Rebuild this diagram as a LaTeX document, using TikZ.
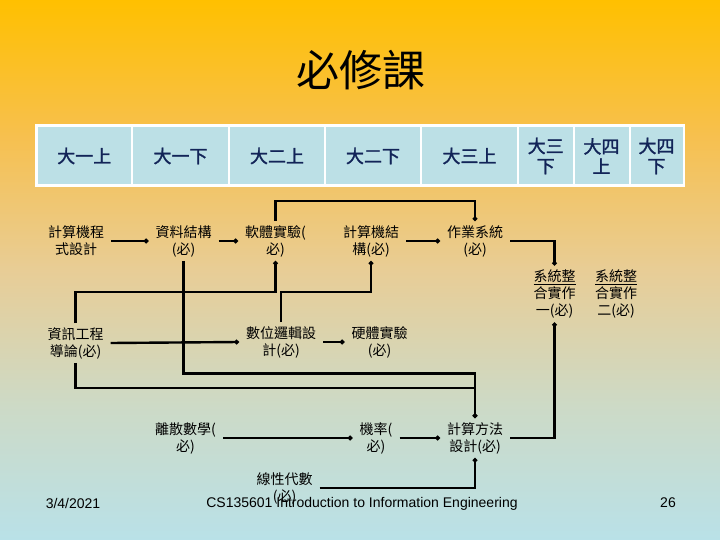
\documentclass[tikz,border=0pt]{standalone}
\usepackage{fontspec}
\setmainfont{Liberation Sans}
\newfontfamily\cjk{Noto Sans CJK TC}
\newfontfamily\cjkb{Noto Sans CJK TC}[FakeBold=1.6]
\usetikzlibrary{arrows.meta}
\definecolor{bgA}{RGB}{255,192,0}
\definecolor{bgB}{RGB}{247,192,78}
\definecolor{bgC}{RGB}{232,205,150}
\definecolor{bgD}{RGB}{205,218,198}
\definecolor{bgE}{RGB}{185,225,232}
\definecolor{cellblue}{RGB}{188,224,230}
\definecolor{headnavy}{RGB}{18,36,88}
\tikzset{
  course/.style={font=\cjk\fontsize{14}{17}\selectfont, align=center, inner xsep=7pt, inner ysep=4pt},
  cell/.style={fill=cellblue, draw=none, minimum height=57pt, inner sep=0pt, align=center,
    font=\cjkb\fontsize{18}{20}\selectfont, text=headnavy},
  link/.style={line width=2.4pt, -{Circle[length=4.5pt]}},
  foot/.style={font=\fontsize{14}{16}\selectfont}
}
\begin{document}
\begin{tikzpicture}[x=1pt,y=-1pt]
\useasboundingbox (0,0) rectangle (720,540);
% background
\shade[top color=bgA,bottom color=bgB] (0,0) rectangle (720,135.5);
\shade[top color=bgB,bottom color=bgC] (0,135) rectangle (720,270.5);
\shade[top color=bgC,bottom color=bgD] (0,270) rectangle (720,405.5);
\shade[top color=bgD,bottom color=bgE] (0,405) rectangle (720,540);
% title
\node[font=\cjk\fontsize{43}{46}\selectfont] (title) at (361,70) {必修課};
% header table
\fill[white] (35,124.5) rectangle (685,187);
\node[cell, minimum width=93.5pt] (h1) at (84.25,156) {大一上};
\node[cell, minimum width=95pt] (h2) at (180.5,156) {大一下};
\node[cell, minimum width=94pt] (h3) at (277,156) {大二上};
\node[cell, minimum width=94pt] (h4) at (373,156) {大二下};
\node[cell, minimum width=95pt] (h5) at (469.5,156) {大三上};
\node[cell, minimum width=53.5pt] (h6) at (545.75,156) {大三\\下};
\node[cell, minimum width=54pt] (h7) at (601.5,156) {大四\\上};
\node[cell, minimum width=52pt] (h8) at (656.5,156) {大四\\下};
% courses
\node[course] (a1) at (76,241) {計算機程\\式設計};
\node[course] (a2) at (183.5,241) {資料結構\\(必)};
\node[course] (a3) at (275.5,241) {軟體實驗(\\必)};
\node[course] (a4) at (371,241) {計算機結\\構(必)};
\node[course] (a5) at (475,241) {作業系統\\(必)};
\node[course] (a6) at (554.5,294) {\underline{系統整}\\合實作\\一(必)};
\node[course] (a7) at (616,294) {\underline{系統整}\\合實作\\二(必)};
\node[course] (b1) at (75.5,343) {資訊工程\\導論(必)};
\node[course] (b2) at (281,342) {數位邏輯設\\計(必)};
\node[course] (b3) at (379.5,342) {硬體實驗\\(必)};
\node[course] (c1) at (185.5,438) {離散數學(\\必)};
\node[course] (c2) at (376,438) {機率(\\必)};
\node[course] (c3) at (475,438) {計算方法\\設計(必)};
\node[course] (d1) at (284.5,488) {線性代數\\(必)};
% routing levels
\coordinate (lvTop) at (0,201);
\coordinate (lvA) at (0,292);
\coordinate (lvB) at (0,373.5);
\coordinate (lvC) at (0,388);
% connectors
\draw[link] (a1.east) -- (a2.west);
\draw[link] (a2.east) -- (a3.west);
\draw[link] (a4.east) -- (a5.west);
\draw[link] (a5.east) -| (a6.north);
\draw[link] (a3.north) -- (a3.north |- lvTop) -| (a5.north);
\draw[link] (b1.north) -- (b1.north |- lvA) -| (a3.south);
\draw[link] (b2.north) -- (b2.north |- lvA) -| (a4.south);
\draw[link] (b1.east) -- (b2.west);
\draw[link] (b2.east) -- (b3.west);
\draw[link] (a2.south) -- (a2.south |- lvB) -| (c3.north);
\draw[link] (b1.south) -- (b1.south |- lvC) -| (c3.north);
\draw[link] (c1.east) -- (c2.west);
\draw[link] (c2.east) -- (c3.west);
\draw[link] (d1.east) -| (c3.south);
\draw[link] (c3.east) -| (a6.south);
% footer
\node[foot] (date) at (73,503) {3/4/2021};
\node[foot] (course) at (362,504) {CS135601 Introduction to Information Engineering};
\node[foot] (page) at (668,503) {26};
\end{tikzpicture}
\end{document}
